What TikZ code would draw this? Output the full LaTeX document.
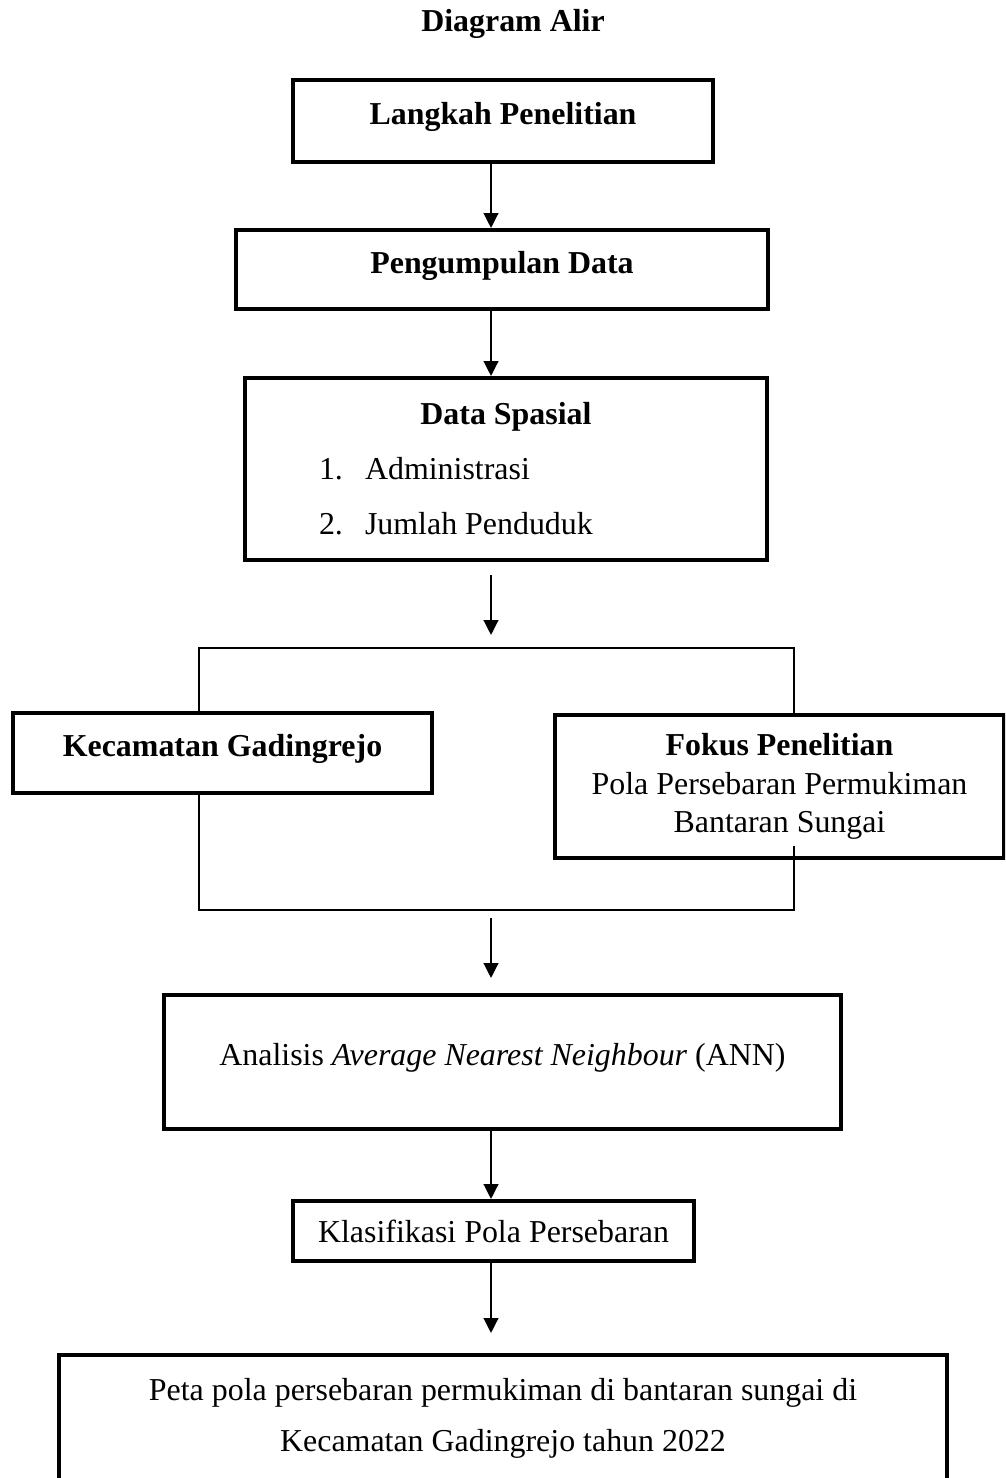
\documentclass[tikz,border=0pt]{standalone}
\usepackage{fontspec}
\setmainfont{Liberation Serif}
\usetikzlibrary{arrows.meta}
\newcommand\pxu{0.376pt}

\begin{document}
\begin{tikzpicture}[x=\pxu, y=-\pxu, font=\fontsize{12}{14.5}\selectfont,
  kotak/.style={draw, line width=1.5pt, fill=white, inner sep=0pt, align=center},
  naik/.style={text depth=5.4pt},
  panah/.style={-{Triangle[width=5.5pt,length=5.6pt]}, line width=0.75pt},
  garis/.style={line width=0.45pt}]
\useasboundingbox (0,0) rectangle (1005,1478);
\clip (0,0) rectangle (1005,1478);

\coordinate (sumbu) at (491,0);
\coordinate (bka) at (199,648);
\coordinate (bki) at (794,648);
\coordinate (bwa) at (794,910);
\coordinate (bwi) at (199,910);
\coordinate (potong) at (794,846);
\coordinate (a1) at (491,575);
\coordinate (a2) at (491,635);
\coordinate (a3) at (491,918);
\coordinate (a4) at (491,978);
\coordinate (a5) at (491,1333);

\draw[garis] (bka) -- (bki) -- (bwa) -- (bwi) -- cycle;

\node (judul) at (513,24) {\textbf{Diagram Alir}};
\node (langkah) at (503,121) [kotak, naik, minimum width=420*\pxu, minimum height=82*\pxu] {\textbf{Langkah Penelitian}};
\node (kumpul) at (502,269.5) [kotak, naik, minimum width=532*\pxu, minimum height=79*\pxu] {\textbf{Pengumpulan Data}};
\node (spasial) at (506,469) [kotak, minimum width=522*\pxu, minimum height=182*\pxu, font=\fontsize{12}{20.7}\selectfont]
  {\textbf{Data Spasial}\\
   \makebox[140.6pt][l]{\makebox[17.3pt][l]{1.}Administrasi}\\
   \makebox[140.6pt][l]{\makebox[17.3pt][l]{2.}Jumlah Penduduk}};
\node (kecamatan) at (222.5,752.5) [kotak, naik, minimum width=419*\pxu, minimum height=80*\pxu] {\textbf{Kecamatan Gadingrejo}};
\node (fokus) at (779.5,786.5) [kotak, minimum width=449*\pxu, minimum height=143*\pxu]
  {\textbf{Fokus Penelitian}\\Pola Persebaran Permukiman\\Bantaran Sungai};
\node (ann) at (502.5,1062) [kotak, naik, minimum width=677*\pxu, minimum height=134*\pxu] {Analisis \textit{Average Nearest Neighbour} (ANN)};
\node (klas) at (493.5,1231) [kotak, minimum width=401*\pxu, minimum height=60*\pxu] {Klasifikasi Pola Persebaran};
\node (peta) at (503,1418.5) [kotak, minimum width=888*\pxu, minimum height=127*\pxu, font=\fontsize{12}{19.2}\selectfont]
  {Peta pola persebaran permukiman di bantaran sungai di\\Kecamatan Gadingrejo tahun 2022};

\draw[garis] (potong) -- (bwa);
\draw[panah] (langkah.south -| sumbu) -- (kumpul.north -| sumbu);
\draw[panah] (kumpul.south -| sumbu) -- (spasial.north -| sumbu);
\draw[panah] (a1) -- (a2);
\draw[panah] (a3) -- (a4);
\draw[panah] (ann.south -| sumbu) -- (klas.north -| sumbu);
\draw[panah] (klas.south -| sumbu) -- (a5);
\end{tikzpicture}
\end{document}
